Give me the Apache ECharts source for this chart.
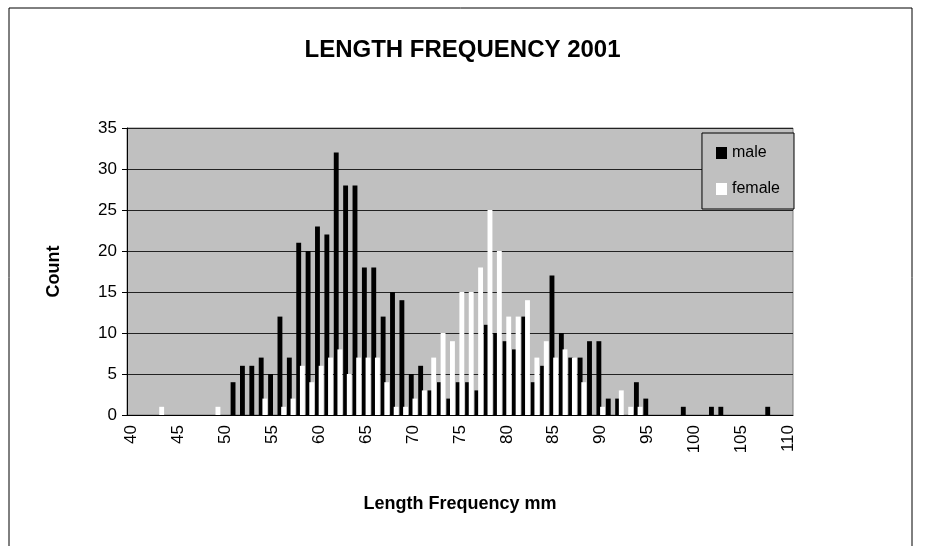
<!DOCTYPE html>
<html>
<head>
<meta charset="utf-8">
<script src="https://cdn.jsdelivr.net/npm/echarts@6/dist/echarts.min.js"></script>
<style>html,body{margin:0;padding:0;background:#fff}#main{width:925px;height:546px}</style>
</head>
<body>
<div id="main"></div>
<script>
var lengths = [];
for (var v = 40; v <= 110; v++) lengths.push(String(v));

// counts per mm, starting at 40
var male = [
    0, 0, 0, 0, 0, 0, 0, 0, 0, 0,          // 40-49
    0, 4, 6, 6, 7, 5, 12, 7, 21, 20,        // 50-59
    23, 22, 32, 28, 28, 18, 18, 12, 15, 14, // 60-69
    5, 6, 3, 4, 2, 4, 4, 3, 11, 10,         // 70-79
    9, 8, 12, 4, 6, 17, 10, 7, 7, 9,        // 80-89
    9, 2, 2, 0, 4, 2, 0, 0, 0, 1,           // 90-99
    0, 0, 1, 1, 0, 0, 0, 0, 1, 0,           // 100-109
    0                                       // 110
];
var female = [
    0, 0, 0, 1, 0, 0, 0, 0, 0, 1,
    0, 0, 0, 0, 2, 0, 1, 2, 6, 4,
    6, 7, 8, 5, 7, 7, 7, 4, 1, 1,
    2, 3, 7, 10, 9, 15, 15, 18, 25, 20,
    12, 12, 14, 7, 9, 7, 8, 7, 4, 0,
    1, 0, 3, 1, 1, 0, 0, 0, 0, 0,
    0, 0, 0, 0, 0, 0, 0, 0, 0, 0,
    0
];

var chart = echarts.init(document.getElementById('main'));
chart.setOption({
    animation: false,
    title: {
        text: 'LENGTH FREQUENCY 2001',
        left: 'center', top: 33,
        textStyle: {fontFamily: 'Liberation Sans', fontSize: 24, fontWeight: 'bold', color: '#000'}
    },
    graphic: [{
        type: 'rect', shape: {x: 9, y: 8, width: 903, height: 560},
        style: {fill: 'none', stroke: '#000', lineWidth: 1}, z: -1
    }],
    legend: {
        orient: 'vertical', right: 131, top: 133,
        backgroundColor: '#c0c0c0', borderColor: '#000', borderWidth: 1,
        padding: [12, 14, 12, 14], itemGap: 20,
        itemWidth: 11, itemHeight: 12, icon: 'rect',
        textStyle: {fontFamily: 'Liberation Sans', fontSize: 16, color: '#000'},
        data: ['male', 'female']
    },
    grid: {
        left: 127, right: 132, top: 128, bottom: 131,
        show: true, backgroundColor: '#c0c0c0', borderColor: '#808080', borderWidth: 1
    },
    xAxis: {
        type: 'category', data: lengths,
        name: 'Length Frequency mm', nameLocation: 'middle', nameGap: 80,
        nameTextStyle: {fontFamily: 'Liberation Sans', fontSize: 18, fontWeight: 'bold', color: '#000'},
        axisLine: {lineStyle: {color: '#000'}},
        axisTick: {interval: 0, length: 6, lineStyle: {color: '#000'}},
        axisLabel: {interval: 4, rotate: 90, fontFamily: 'Liberation Sans', fontSize: 17, color: '#000', margin: 10}
    },
    yAxis: {
        type: 'value', min: 0, max: 35, interval: 5,
        name: 'Count', nameLocation: 'middle', nameGap: 64,
        nameTextStyle: {fontFamily: 'Liberation Sans', fontSize: 18, fontWeight: 'bold', color: '#000'},
        axisLine: {show: true, lineStyle: {color: '#000'}},
        axisTick: {show: true, length: 5, lineStyle: {color: '#000'}},
        splitLine: {lineStyle: {color: '#222'}},
        axisLabel: {fontFamily: 'Liberation Sans', fontSize: 17, color: '#000', margin: 10}
    },
    series: [{
        name: 'male', type: 'bar', data: male,
        barWidth: '52%', barGap: '-25%',
        itemStyle: {color: '#000'}
    }, {
        name: 'female', type: 'bar', data: female,
        barWidth: '52%',
        itemStyle: {color: '#fff'}
    }]
});
</script>
</body>
</html>
